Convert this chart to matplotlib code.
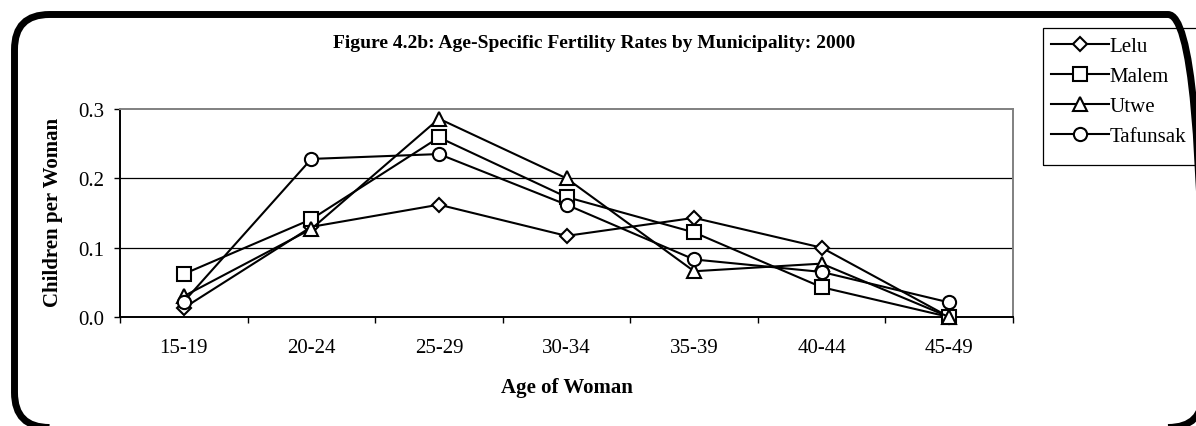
import matplotlib
matplotlib.use("Agg")
import matplotlib.pyplot as plt
from matplotlib.patches import FancyBboxPatch, Rectangle
from matplotlib.transforms import IdentityTransform
import numpy as np

categories = ["15-19", "20-24", "25-29", "30-34", "35-39", "40-44", "45-49"]
lelu = [0.013, 0.130, 0.162, 0.117, 0.143, 0.100, 0.000]
malem = [0.062, 0.141, 0.259, 0.173, 0.122, 0.043, 0.000]
utwe = [0.030, 0.127, 0.286, 0.200, 0.066, 0.077, 0.000]
tafunsak = [0.022, 0.228, 0.235, 0.162, 0.083, 0.065, 0.021]
series_names = ["Lelu", "Malem", "Utwe", "Tafunsak"]
yticks = [0.0, 0.1, 0.2, 0.3]
title = "Figure 4.2b: Age-Specific Fertility Rates by Municipality: 2000"

plt.rcParams['font.family'] = ['Liberation Serif', 'DejaVu Serif']

W, H = 1196, 427
fig = plt.figure(figsize=(W / 100, H / 100), dpi=100)

def fx(px):
    return px / W

def fy(py):
    return 1 - py / H

ax = fig.add_axes([fx(120), fy(318), fx(1013) - fx(120), fy(110) - fy(318)])

x = np.arange(len(categories))
markers = ["D", "s", "^", "o"]
sizes = [7.2, 9.5, 10.0, 9.5]
handles = []
for vals, name, m, ms in zip([lelu, malem, utwe, tafunsak], series_names, markers, sizes):
    h, = ax.plot(x, vals, color="black", lw=1.5, marker=m, ms=ms,
                 markerfacecolor="white", markeredgecolor="black", mew=1.5,
                 label=name, clip_on=False, zorder=3)
    handles.append(h)

ax.set_xlim(-0.5, len(categories) - 0.5)
ax.set_ylim(0, 0.3)
ax.set_yticks(yticks)
ax.set_yticklabels([f"{v:.1f}" for v in yticks])
ax.set_xticks(x)
ax.set_xticklabels(categories)
ax.set_xticks(np.arange(-0.5, len(categories)), minor=True)
ax.tick_params(axis="x", which="major", length=0, pad=15, labelsize=15)
ax.tick_params(axis="x", which="minor", length=4.5, width=1, direction="out", color="black")
ax.tick_params(axis="y", which="major", length=4.5, width=1, direction="out", pad=7, labelsize=15)

for yv in yticks[1:-1]:
    ax.axhline(yv, color="black", lw=0.9, zorder=1)

ax.spines["left"].set_color("black")
ax.spines["bottom"].set_color("black")
ax.spines["top"].set_color("#808080")
ax.spines["right"].set_color("#808080")
for sp in ax.spines.values():
    sp.set_linewidth(1.4)

fig.text(fx(594), fy(44), title, ha="center", va="center", fontsize=14, fontweight="bold")
fig.text(fx(53), fy(212), "Children per Woman", ha="center", va="center",
         rotation=90, fontsize=15, fontweight="bold")
fig.text(fx(567), fy(388), "Age of Woman", ha="center", va="center", fontsize=15, fontweight="bold")

leg = fig.legend(handles=handles, labels=series_names, loc="upper left",
                 bbox_to_anchor=(fx(1043), fy(29)), frameon=False,
                 fontsize=15, handlelength=2.75, labelspacing=0.5,
                 borderaxespad=0, borderpad=0.4, handletextpad=0.05)

legend_box = Rectangle((1043, 427 - 166), 1210 - 1043, 166 - 29,
                       transform=IdentityTransform(), fill=False,
                       edgecolor="black", linewidth=0.9, clip_on=False)
fig.patches.append(legend_box)

border = FancyBboxPatch((14.5, -1.5), 1203 - 14.5, (427 - 15.5) + 1.5,
                        boxstyle="round,pad=0,rounding_size=35",
                        transform=IdentityTransform(), fill=False,
                        edgecolor="black", linewidth=5.0, clip_on=False)
fig.patches.append(border)

fig.savefig("out.png", dpi=100)
